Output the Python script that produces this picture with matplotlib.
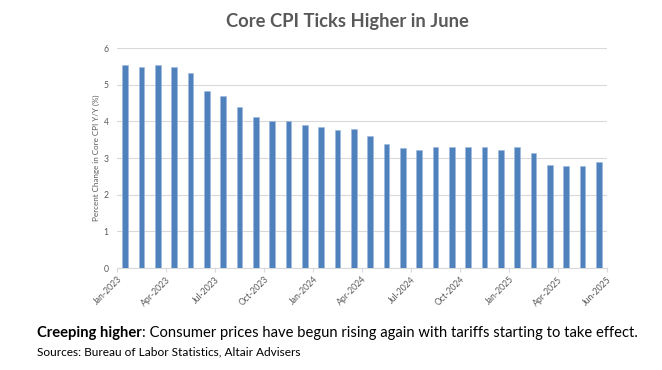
import matplotlib
matplotlib.use("Agg")
import matplotlib.pyplot as plt

# ── data ──────────────────────────────────────────────────────────────────────
months = ["Jan-2023", "Feb-2023", "Mar-2023", "Apr-2023", "May-2023", "Jun-2023",
          "Jul-2023", "Aug-2023", "Sep-2023", "Oct-2023", "Nov-2023", "Dec-2023",
          "Jan-2024", "Feb-2024", "Mar-2024", "Apr-2024", "May-2024", "Jun-2024",
          "Jul-2024", "Aug-2024", "Sep-2024", "Oct-2024", "Nov-2024", "Dec-2024",
          "Jan-2025", "Feb-2025", "Mar-2025", "Apr-2025", "May-2025", "Jun-2025"]
core_cpi = [5.53, 5.47, 5.55, 5.49, 5.32, 4.83, 4.70, 4.39, 4.13, 4.02,
            4.00, 3.90, 3.85, 3.77, 3.79, 3.61, 3.39, 3.27, 3.23, 3.29,
            3.29, 3.29, 3.29, 3.21, 3.29, 3.14, 2.81, 2.78, 2.77, 2.90]
tick_labels = ["Jan-2023", "Apr-2023", "Jul-2023", "Oct-2023", "Jan-2024", "Apr-2024",
               "Jul-2024", "Oct-2024", "Jan-2025", "Apr-2025", "Jun-2025"]

BAR = "#4F81BD"
GRAY = "#595959"
FONT = ["Lato", "DejaVu Sans"]
plt.rcParams["font.family"] = FONT

fig = plt.figure(figsize=(6.62, 3.70), dpi=100)
ax = fig.add_axes([117 / 662, 1 - 268 / 370, 490 / 662, 220 / 370])

xs = [i + 0.5 for i in range(len(core_cpi))]
ax.bar(xs, core_cpi, width=0.34, color=BAR, edgecolor="#9DB9DD", linewidth=0.4, zorder=3)

ax.set_xlim(0, len(core_cpi))
ax.set_ylim(0, 6)
ax.set_yticks(range(0, 7))
ax.grid(axis="y", color="#D9D9D9", linewidth=0.8, zorder=0)

# ticks every 3 months, last label at the axis end
tick_pos = [months.index(t) for t in tick_labels[:-1]] + [len(core_cpi)]
ax.set_xticks(tick_pos)
ax.set_xticklabels(tick_labels, rotation=45, ha="right", rotation_mode="anchor")
ax.tick_params(axis="x", length=3, color="#D9D9D9", labelsize=6.2, labelcolor=GRAY, pad=2)
ax.tick_params(axis="y", length=0, labelsize=6.2, labelcolor=GRAY, pad=6)

for s in ("top", "right", "left"):
    ax.spines[s].set_visible(False)
ax.spines["bottom"].set_color("#D9D9D9")

ax.set_ylabel("Percent Change in Core CPI Y/Y (%)", fontsize=5.8, color=GRAY, labelpad=3)

fig.text(347 / 662, 1 - 22 / 370, "Core CPI Ticks Higher in June", ha="center", va="center",
         fontsize=13.2, fontweight="bold", color=GRAY)

# caption: bold lead-in then normal text
fig.canvas.draw()
r = fig.canvas.get_renderer()
t1 = fig.text(37 / 662, 1 - 333 / 370, "Creeping higher", fontsize=10.6, fontweight="bold",
              color="black", va="center")
bb = t1.get_window_extent(renderer=r)
fig.text(bb.x1 / 662, 1 - 333 / 370, ": Consumer prices have begun rising again with tariffs starting to take effect.",
         fontsize=10.6, color="black", va="center")
fig.text(37 / 662, 1 - 352 / 370, "Sources: Bureau of Labor Statistics, Altair Advisers",
         fontsize=8.6, color="black", va="center")

fig.savefig("out.png", dpi=100)
